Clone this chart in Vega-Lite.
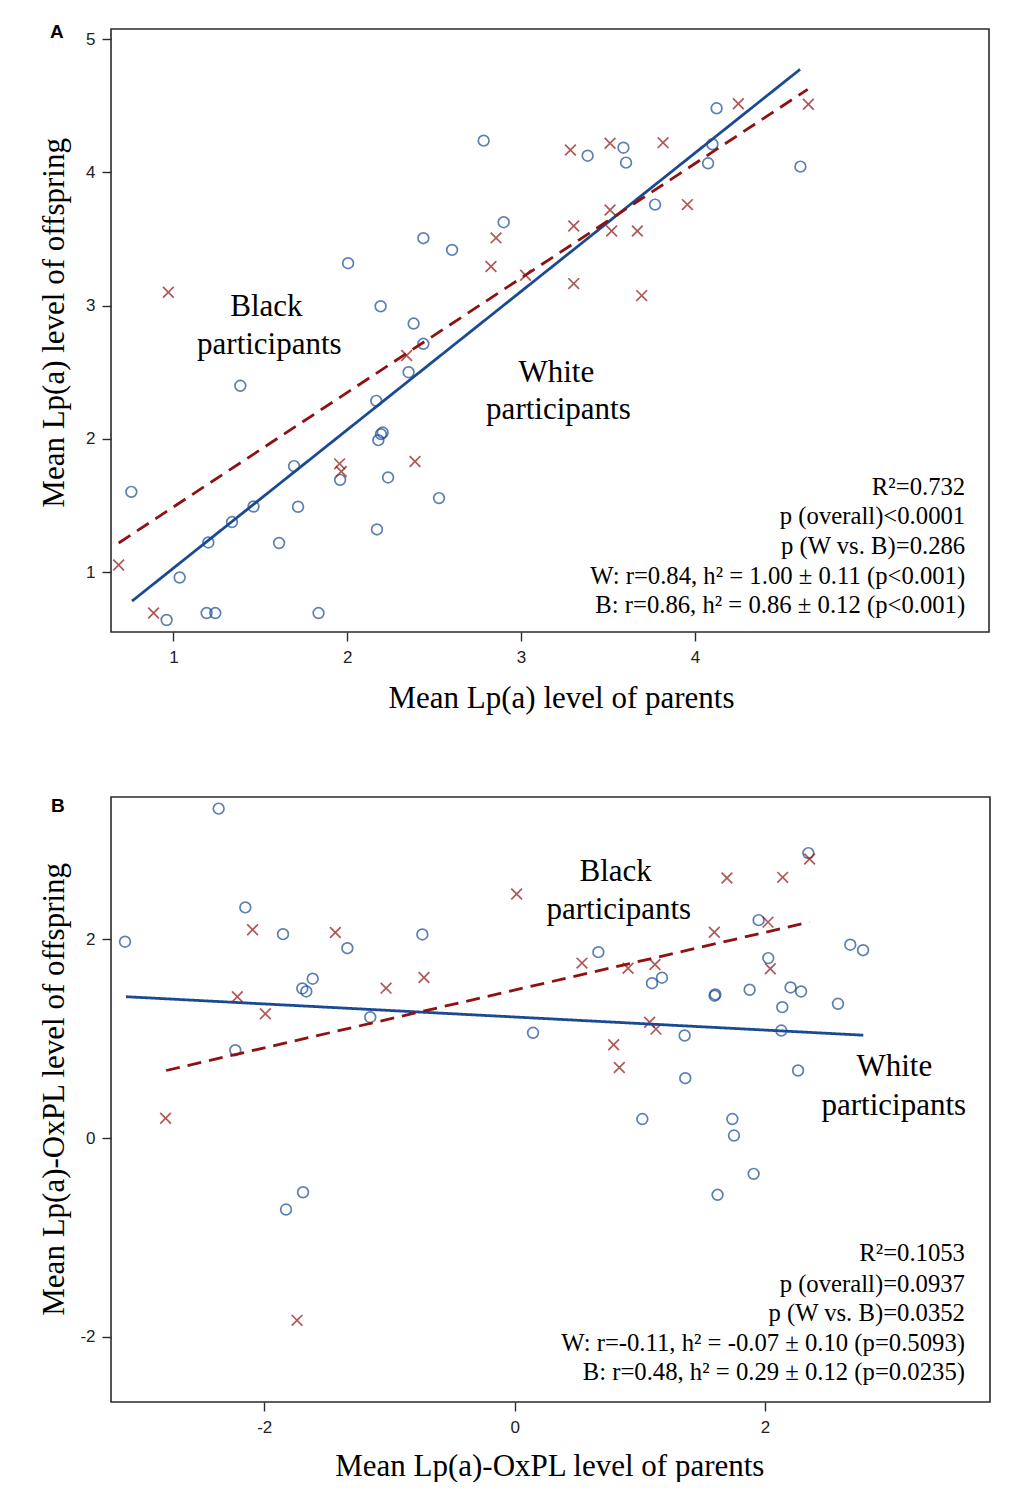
{
  "$schema": "https://vega.github.io/schema/vega-lite/v6.json",
  "background": "white",
  "padding": {"left": 37, "top": 22, "right": 0, "bottom": 0},
  "columns": 1,
  "align": "none",
  "spacing": 80,
  "datasets": {
    "a_pts": [
      {"x": 2.785, "y": 4.238, "g": "White"}, {"x": 2.005, "y": 3.318, "g": "White"}, {"x": 2.438, "y": 3.506, "g": "White"}, {"x": 2.603, "y": 3.418, "g": "White"},
      {"x": 2.192, "y": 2.995, "g": "White"}, {"x": 2.382, "y": 2.865, "g": "White"}, {"x": 2.438, "y": 2.713, "g": "White"}, {"x": 2.900, "y": 3.626, "g": "White"},
      {"x": 3.383, "y": 4.125, "g": "White"}, {"x": 3.589, "y": 4.185, "g": "White"}, {"x": 3.604, "y": 4.073, "g": "White"}, {"x": 4.125, "y": 4.481, "g": "White"},
      {"x": 4.101, "y": 4.211, "g": "White"}, {"x": 4.076, "y": 4.068, "g": "White"}, {"x": 4.607, "y": 4.043, "g": "White"}, {"x": 3.771, "y": 3.758, "g": "White"},
      {"x": 1.385, "y": 2.398, "g": "White"}, {"x": 2.353, "y": 2.500, "g": "White"}, {"x": 2.167, "y": 2.285, "g": "White"}, {"x": 2.204, "y": 2.047, "g": "White"},
      {"x": 2.194, "y": 2.035, "g": "White"}, {"x": 2.179, "y": 1.990, "g": "White"}, {"x": 1.694, "y": 1.795, "g": "White"}, {"x": 1.959, "y": 1.692, "g": "White"},
      {"x": 2.235, "y": 1.710, "g": "White"}, {"x": 0.758, "y": 1.602, "g": "White"}, {"x": 1.461, "y": 1.492, "g": "White"}, {"x": 1.717, "y": 1.490, "g": "White"},
      {"x": 2.528, "y": 1.555, "g": "White"}, {"x": 1.337, "y": 1.375, "g": "White"}, {"x": 1.201, "y": 1.222, "g": "White"}, {"x": 1.608, "y": 1.218, "g": "White"},
      {"x": 2.171, "y": 1.320, "g": "White"}, {"x": 1.036, "y": 0.959, "g": "White"}, {"x": 0.961, "y": 0.640, "g": "White"}, {"x": 1.191, "y": 0.692, "g": "White"},
      {"x": 1.241, "y": 0.692, "g": "White"}, {"x": 1.835, "y": 0.692, "g": "White"},
      {"x": 0.971, "y": 3.100, "g": "Black"}, {"x": 2.856, "y": 3.508, "g": "Black"}, {"x": 2.827, "y": 3.293, "g": "Black"}, {"x": 3.284, "y": 4.168, "g": "Black"},
      {"x": 3.512, "y": 4.218, "g": "Black"}, {"x": 3.817, "y": 4.223, "g": "Black"}, {"x": 4.250, "y": 4.515, "g": "Black"}, {"x": 4.653, "y": 4.511, "g": "Black"},
      {"x": 3.026, "y": 3.228, "g": "Black"}, {"x": 3.303, "y": 3.598, "g": "Black"}, {"x": 3.512, "y": 3.718, "g": "Black"}, {"x": 3.521, "y": 3.560, "g": "Black"},
      {"x": 3.669, "y": 3.560, "g": "Black"}, {"x": 3.957, "y": 3.758, "g": "Black"}, {"x": 3.303, "y": 3.165, "g": "Black"}, {"x": 3.694, "y": 3.075, "g": "Black"},
      {"x": 2.342, "y": 2.625, "g": "Black"}, {"x": 1.956, "y": 1.812, "g": "Black"}, {"x": 1.966, "y": 1.755, "g": "Black"}, {"x": 2.390, "y": 1.830, "g": "Black"},
      {"x": 0.685, "y": 1.053, "g": "Black"}, {"x": 0.886, "y": 0.692, "g": "Black"}
    ],
    "a_lines": [
      {"x": 0.762, "y": 0.782, "g": "White"}, {"x": 4.605, "y": 4.773, "g": "White"},
      {"x": 0.685, "y": 1.218, "g": "Black"}, {"x": 4.649, "y": 4.623, "g": "Black"}
    ],
    "a_text": [
      {"x": 1.535, "y": 2.923, "t": "Black", "k": "lab"},
      {"x": 1.552, "y": 2.634, "t": "participants", "k": "lab"},
      {"x": 3.203, "y": 2.425, "t": "White", "k": "lab"},
      {"x": 3.215, "y": 2.148, "t": "participants", "k": "lab"},
      {"x": 5.555, "y": 1.580, "t": "R²=0.732", "k": "stat"},
      {"x": 5.555, "y": 1.362, "t": "p (overall)<0.0001", "k": "stat"},
      {"x": 5.555, "y": 1.137, "t": "p (W vs. B)=0.286", "k": "stat"},
      {"x": 5.555, "y": 0.912, "t": "W: r=0.84, h² = 1.00 ± 0.11 (p<0.001)", "k": "stat"},
      {"x": 5.555, "y": 0.691, "t": "B: r=0.86, h² = 0.86 ± 0.12 (p<0.001)", "k": "stat"}
    ],
    "b_pts": [
      {"x": -2.364, "y": 3.312, "g": "White"}, {"x": -3.112, "y": 1.974, "g": "White"}, {"x": -2.151, "y": 2.319, "g": "White"}, {"x": -1.850, "y": 2.050, "g": "White"},
      {"x": -1.336, "y": 1.909, "g": "White"}, {"x": -0.737, "y": 2.047, "g": "White"}, {"x": -1.613, "y": 1.602, "g": "White"}, {"x": -1.696, "y": 1.504, "g": "White"},
      {"x": -1.664, "y": 1.474, "g": "White"}, {"x": -1.153, "y": 1.215, "g": "White"}, {"x": -2.231, "y": 0.883, "g": "White"}, {"x": 2.346, "y": 2.865, "g": "White"},
      {"x": 1.949, "y": 2.191, "g": "White"}, {"x": 2.681, "y": 1.944, "g": "White"}, {"x": 2.783, "y": 1.889, "g": "White"}, {"x": 0.669, "y": 1.869, "g": "White"},
      {"x": 1.177, "y": 1.612, "g": "White"}, {"x": 1.097, "y": 1.557, "g": "White"}, {"x": 2.026, "y": 1.809, "g": "White"}, {"x": 1.597, "y": 1.431, "g": "White"},
      {"x": 1.603, "y": 1.444, "g": "White"}, {"x": 1.877, "y": 1.491, "g": "White"}, {"x": 2.204, "y": 1.514, "g": "White"}, {"x": 2.288, "y": 1.474, "g": "White"},
      {"x": 2.583, "y": 1.350, "g": "White"}, {"x": 2.138, "y": 1.316, "g": "White"}, {"x": 2.130, "y": 1.081, "g": "White"}, {"x": 0.147, "y": 1.058, "g": "White"},
      {"x": 1.358, "y": 1.031, "g": "White"}, {"x": 1.363, "y": 0.602, "g": "White"}, {"x": 2.264, "y": 0.679, "g": "White"}, {"x": 1.020, "y": 0.191, "g": "White"},
      {"x": 1.739, "y": 0.191, "g": "White"}, {"x": 1.752, "y": 0.025, "g": "White"}, {"x": 1.909, "y": -0.360, "g": "White"}, {"x": 1.621, "y": -0.571, "g": "White"},
      {"x": -1.690, "y": -0.545, "g": "White"}, {"x": -1.826, "y": -0.719, "g": "White"},
      {"x": -2.093, "y": 2.095, "g": "Black"}, {"x": -1.432, "y": 2.067, "g": "Black"}, {"x": -1.027, "y": 1.507, "g": "Black"}, {"x": -0.724, "y": 1.615, "g": "Black"},
      {"x": -2.215, "y": 1.421, "g": "Black"}, {"x": -1.991, "y": 1.249, "g": "Black"}, {"x": -2.788, "y": 0.199, "g": "Black"}, {"x": -1.738, "y": -1.833, "g": "Black"},
      {"x": 0.016, "y": 2.453, "g": "Black"}, {"x": 1.696, "y": 2.614, "g": "Black"}, {"x": 2.141, "y": 2.621, "g": "Black"}, {"x": 2.356, "y": 2.805, "g": "Black"},
      {"x": 1.595, "y": 2.070, "g": "Black"}, {"x": 2.024, "y": 2.171, "g": "Black"}, {"x": 0.538, "y": 1.759, "g": "Black"}, {"x": 0.906, "y": 1.708, "g": "Black"},
      {"x": 1.121, "y": 1.745, "g": "Black"}, {"x": 2.042, "y": 1.702, "g": "Black"}, {"x": 1.078, "y": 1.165, "g": "Black"}, {"x": 1.129, "y": 1.095, "g": "Black"},
      {"x": 0.791, "y": 0.938, "g": "Black"}, {"x": 0.836, "y": 0.709, "g": "Black"}
    ],
    "b_lines": [
      {"x": -3.104, "y": 1.421, "g": "White"}, {"x": 2.785, "y": 1.034, "g": "White"},
      {"x": -2.784, "y": 0.679, "g": "Black"}, {"x": 2.354, "y": 2.171, "g": "Black"}
    ],
    "b_text": [
      {"x": 0.807, "y": 2.580, "t": "Black", "k": "lab"},
      {"x": 0.832, "y": 2.201, "t": "participants", "k": "lab"},
      {"x": 3.033, "y": 0.619, "t": "White", "k": "lab"},
      {"x": 3.029, "y": 0.233, "t": "participants", "k": "lab"},
      {"x": 3.597, "y": -1.235, "t": "R²=0.1053", "k": "stat"},
      {"x": 3.597, "y": -1.544, "t": "p (overall)=0.0937", "k": "stat"},
      {"x": 3.597, "y": -1.836, "t": "p (W vs. B)=0.0352", "k": "stat"},
      {"x": 3.597, "y": -2.141, "t": "W: r=-0.11, h² = -0.07 ± 0.10 (p=0.5093)", "k": "stat"},
      {"x": 3.597, "y": -2.433, "t": "B: r=0.48, h² = 0.29 ± 0.12 (p=0.0235)", "k": "stat"}
    ]
  },
  "concat": [
    {
      "width": 878,
      "height": 603,
      "title": {"text": "A", "anchor": "start", "frame": "group", "orient": "top", "offset": 0, "dx": -61, "dy": 28, "baseline": "alphabetic", "font": "Liberation Sans", "fontWeight": "bold", "fontSize": 19, "color": "black"},
      "layer": [
        {
          "data": {"name": "a_pts"},
          "mark": {"type": "point", "filled": false, "strokeWidth": 1.7, "size": 115},
          "encoding": {
            "x": {"field": "x", "type": "quantitative", "scale": {"domain": [0.641, 5.692], "nice": false, "zero": false},
              "axis": {"values": [1, 2, 3, 4], "title": "Mean Lp(a) level of parents", "titleX": 450, "titleY": 75.4, "labelPadding": 8}},
            "y": {"field": "y", "type": "quantitative", "scale": {"domain": [0.55, 5.076], "nice": false, "zero": false},
              "axis": {"values": [1, 2, 3, 4, 5], "title": "Mean Lp(a) level of offspring", "titleX": -47.4, "titleY": 293.4, "labelPadding": 7}},
            "color": {"field": "g", "type": "nominal", "scale": {"domain": ["White", "Black"], "range": ["#1a4a94", "#8e1212"]}, "legend": null},
            "shape": {"field": "g", "type": "nominal", "scale": {"domain": ["White", "Black"], "range": ["circle", "M-1,-1L1,1M1,-1L-1,1"]}, "legend": null}
          }
        },
        {
          "data": {"name": "a_lines"},
          "mark": {"type": "line", "strokeWidth": 2.8},
          "encoding": {
            "x": {"field": "x", "type": "quantitative"},
            "y": {"field": "y", "type": "quantitative"},
            "color": {"field": "g", "type": "nominal", "scale": {"domain": ["White", "Black"], "range": ["#0f3d8c", "#8e1212"]}, "legend": null},
            "strokeDash": {"field": "g", "type": "nominal", "scale": {"domain": ["White", "Black"], "range": [[1, 0], [14, 8]]}, "legend": null}
          }
        },
        {
          "data": {"name": "a_text"},
          "transform": [{"filter": "datum.k === 'lab'"}],
          "mark": {"type": "text", "font": "Liberation Serif", "fontSize": 31, "align": "center", "baseline": "alphabetic", "color": "black"},
          "encoding": {
            "x": {"field": "x", "type": "quantitative"},
            "y": {"field": "y", "type": "quantitative"},
            "text": {"field": "t"}
          }
        },
        {
          "data": {"name": "a_text"},
          "transform": [{"filter": "datum.k === 'stat'"}],
          "mark": {"type": "text", "font": "Liberation Serif", "fontSize": 24.7, "align": "right", "baseline": "alphabetic", "color": "black"},
          "encoding": {
            "x": {"field": "x", "type": "quantitative"},
            "y": {"field": "y", "type": "quantitative"},
            "text": {"field": "t"}
          }
        }
      ]
    },
    {
      "width": 879,
      "height": 605,
      "title": {"text": "B", "anchor": "start", "frame": "group", "orient": "top", "offset": 0, "dx": -60, "dy": 33.6, "baseline": "alphabetic", "font": "Liberation Sans", "fontWeight": "bold", "fontSize": 19, "color": "black"},
      "layer": [
        {
          "data": {"name": "b_pts"},
          "mark": {"type": "point", "filled": false, "strokeWidth": 1.7, "size": 115},
          "encoding": {
            "x": {"field": "x", "type": "quantitative", "scale": {"domain": [-3.224, 3.797], "nice": false, "zero": false},
              "axis": {"values": [-2, 0, 2], "title": "Mean Lp(a)-OxPL level of parents", "titleX": 438.3, "titleY": 73, "labelPadding": 8}},
            "y": {"field": "y", "type": "quantitative", "scale": {"domain": [-2.654, 3.429], "nice": false, "zero": false},
              "axis": {"values": [-2, 0, 2], "title": "Mean Lp(a)-OxPL level of offspring", "titleX": -47.4, "titleY": 291.8, "labelPadding": 7}},
            "color": {"field": "g", "type": "nominal", "scale": {"domain": ["White", "Black"], "range": ["#1a4a94", "#8e1212"]}, "legend": null},
            "shape": {"field": "g", "type": "nominal", "scale": {"domain": ["White", "Black"], "range": ["circle", "M-1,-1L1,1M1,-1L-1,1"]}, "legend": null}
          }
        },
        {
          "data": {"name": "b_lines"},
          "mark": {"type": "line", "strokeWidth": 2.8},
          "encoding": {
            "x": {"field": "x", "type": "quantitative"},
            "y": {"field": "y", "type": "quantitative"},
            "color": {"field": "g", "type": "nominal", "scale": {"domain": ["White", "Black"], "range": ["#0f3d8c", "#8e1212"]}, "legend": null},
            "strokeDash": {"field": "g", "type": "nominal", "scale": {"domain": ["White", "Black"], "range": [[1, 0], [14, 8]]}, "legend": null}
          }
        },
        {
          "data": {"name": "b_text"},
          "transform": [{"filter": "datum.k === 'lab'"}],
          "mark": {"type": "text", "font": "Liberation Serif", "fontSize": 31, "align": "center", "baseline": "alphabetic", "color": "black"},
          "encoding": {
            "x": {"field": "x", "type": "quantitative"},
            "y": {"field": "y", "type": "quantitative"},
            "text": {"field": "t"}
          }
        },
        {
          "data": {"name": "b_text"},
          "transform": [{"filter": "datum.k === 'stat'"}],
          "mark": {"type": "text", "font": "Liberation Serif", "fontSize": 24.7, "align": "right", "baseline": "alphabetic", "color": "black"},
          "encoding": {
            "x": {"field": "x", "type": "quantitative"},
            "y": {"field": "y", "type": "quantitative"},
            "text": {"field": "t"}
          }
        }
      ]
    }
  ],
  "config": {
    "view": {"stroke": "#2a2a2a", "strokeWidth": 1.6},
    "axis": {
      "grid": false,
      "domain": false,
      "ticks": true,
      "tickSize": 9,
      "tickWidth": 1.4,
      "tickColor": "#2a2a2a",
      "labelFont": "Liberation Sans",
      "labelFontSize": 17,
      "labelColor": "#222222",
      "labelExpr": "'' + datum.value",
      "titleFont": "Liberation Serif",
      "titleFontSize": 31,
      "titleFontWeight": "normal",
      "titleColor": "black",
      "titleBaseline": "alphabetic"
    }
  }
}
